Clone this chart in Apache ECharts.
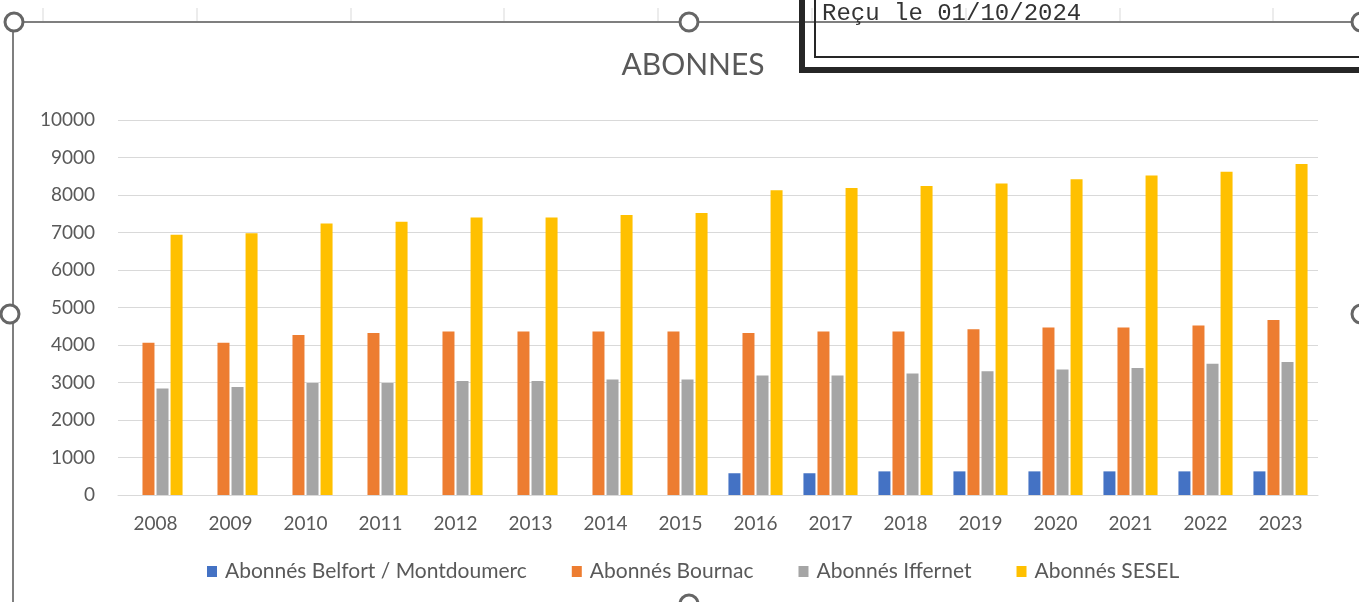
<!DOCTYPE html>
<html>
	<head>
		<meta charset="UTF-8">
		<title>ABONNES</title>
		<style type="text/css">
		  html, body{
		  	margin: 0;
		  	padding: 0;
		  	background: #ffffff;
		  }
		  #chart{
		  	width: 1359px;
		  	height: 602px;
		  }
		</style>
	</head>
	<body>
	  <div id="chart"></div>
	  <script src="https://cdn.jsdelivr.net/npm/echarts@6/dist/echarts.min.js" type="text/javascript"></script>
	  <script type="text/javascript">
	  	// données
	  	var annees = ['2008', '2009', '2010', '2011', '2012', '2013', '2014', '2015',
	  	              '2016', '2017', '2018', '2019', '2020', '2021', '2022', '2023'];
	  	var belfort = [null, null, null, null, null, null, null, null,
	  	               580, 580, 630, 630, 630, 630, 630, 630];
	  	var bournac = [4060, 4060, 4270, 4320, 4360, 4360, 4360, 4360,
	  	               4320, 4360, 4360, 4420, 4470, 4470, 4520, 4670];
	  	var iffernet = [2840, 2880, 2990, 2990, 3040, 3040, 3080, 3080,
	  	                3190, 3190, 3240, 3300, 3350, 3390, 3500, 3550];
	  	var sesel = [6940, 6980, 7240, 7290, 7400, 7400, 7470, 7520,
	  	             8130, 8190, 8240, 8310, 8420, 8520, 8620, 8830];
	  	var noms = ['Abonnés Belfort / Montdoumerc', 'Abonnés Bournac', 'Abonnés Iffernet', 'Abonnés SESEL'];
	  	var couleurs = ['#4472C4', '#ED7D31', '#A5A5A5', '#FFC000'];

	  	var police = 'Lato, "Open Sans", sans-serif';
	  	var gris = '#595959';

	  	// décor : lignes de la feuille, cadre du graphique, poignées, encadré "Reçu le"
	  	var decor = [];
	  	for (var i = 0; i < 9; i++) {
	  	  var x = Math.round(43 + i * 153.8);
	  	  decor.push({
	  	  	type: 'line',
	  	  	shape: { x1: x, y1: 8, x2: x, y2: 21 },
	  	  	style: { stroke: '#d9d9d9', lineWidth: 1 },
	  	  	silent: true
	  	  });
	  	}
	  	decor.push({
	  	  type: 'line',
	  	  shape: { x1: 13, y1: 22, x2: 1359, y2: 22 },
	  	  style: { stroke: '#7f7f7f', lineWidth: 2 },
	  	  silent: true
	  	});
	  	decor.push({
	  	  type: 'line',
	  	  shape: { x1: 13, y1: 22, x2: 13, y2: 602 },
	  	  style: { stroke: '#7f7f7f', lineWidth: 2 },
	  	  silent: true
	  	});
	  	// encadré
	  	decor.push({
	  	  type: 'polyline',
	  	  shape: { points: [[802, 0], [802, 70], [1362, 70]] },
	  	  style: { stroke: '#262626', lineWidth: 6, fill: null },
	  	  silent: true
	  	});
	  	decor.push({
	  	  type: 'polyline',
	  	  shape: { points: [[815, 0], [815, 57], [1362, 57]] },
	  	  style: { stroke: '#262626', lineWidth: 2, fill: null },
	  	  silent: true
	  	});
	  	decor.push({
	  	  type: 'text',
	  	  left: 822,
	  	  top: 2,
	  	  style: {
	  	  	text: 'Reçu le 01/10/2024',
	  	  	font: '24px "Liberation Mono", "DejaVu Sans Mono", monospace',
	  	  	fill: '#333333'
	  	  },
	  	  silent: true
	  	});
	  	var poignees = [[14, 22], [689, 22], [1361, 22], [10, 314], [1361, 314], [689, 604]];
	  	poignees.forEach(function(p){
	  	  decor.push({
	  	  	type: 'circle',
	  	  	shape: { cx: p[0], cy: p[1], r: 9 },
	  	  	style: { fill: '#ffffff', stroke: '#666666', lineWidth: 3 },
	  	  	silent: true,
	  	  	z: 100
	  	  });
	  	});

	  	var series = [belfort, bournac, iffernet, sesel].map(function(d, k){
	  	  return {
	  	  	name: noms[k],
	  	  	type: 'bar',
	  	  	data: d,
	  	  	barWidth: 12,
	  	  	barGap: '17%',
	  	  	itemStyle: { color: couleurs[k] }
	  	  };
	  	});

	  	var chart = echarts.init(document.getElementById('chart'), null, { renderer: 'canvas' });
	  	chart.setOption({
	  	  animation: false,
	  	  color: couleurs,
	  	  title: {
	  	  	text: 'ABONNES',
	  	  	left: 688,
	  	  	textAlign: 'center',
	  	  	top: 45,
	  	  	textStyle: {
	  	  	  fontFamily: police,
	  	  	  fontSize: 30,
	  	  	  fontWeight: 'normal',
	  	  	  color: gris
	  	  	}
	  	  },
	  	  legend: {
	  	  	data: noms,
	  	  	left: 202,
	  	  	top: 556,
	  	  	icon: 'rect',
	  	  	itemWidth: 10,
	  	  	itemHeight: 11,
	  	  	itemGap: 45,
	  	  	textStyle: {
	  	  	  fontFamily: police,
	  	  	  fontSize: 21,
	  	  	  color: gris,
	  	  	  padding: [0, 0, 0, 3]
	  	  	}
	  	  },
	  	  grid: {
	  	  	left: 118,
	  	  	right: 41,
	  	  	top: 120,
	  	  	bottom: 107,
	  	  	containLabel: false
	  	  },
	  	  xAxis: {
	  	  	type: 'category',
	  	  	data: annees,
	  	  	axisLine: { lineStyle: { color: '#d9d9d9', width: 1 } },
	  	  	axisTick: { show: false },
	  	  	axisLabel: {
	  	  	  fontFamily: police,
	  	  	  fontSize: 19,
	  	  	  color: gris,
	  	  	  margin: 19
	  	  	}
	  	  },
	  	  yAxis: {
	  	  	type: 'value',
	  	  	min: 0,
	  	  	max: 10000,
	  	  	interval: 1000,
	  	  	axisLine: { show: false },
	  	  	axisTick: { show: false },
	  	  	splitLine: { lineStyle: { color: '#d9d9d9', width: 1 } },
	  	  	axisLabel: {
	  	  	  fontFamily: police,
	  	  	  fontSize: 19,
	  	  	  color: gris,
	  	  	  margin: 23,
	  	  	  formatter: function(v){ return String(v); }
	  	  	}
	  	  },
	  	  series: series,
	  	  graphic: decor
	  	});
	  </script>
	</body>
</html>
